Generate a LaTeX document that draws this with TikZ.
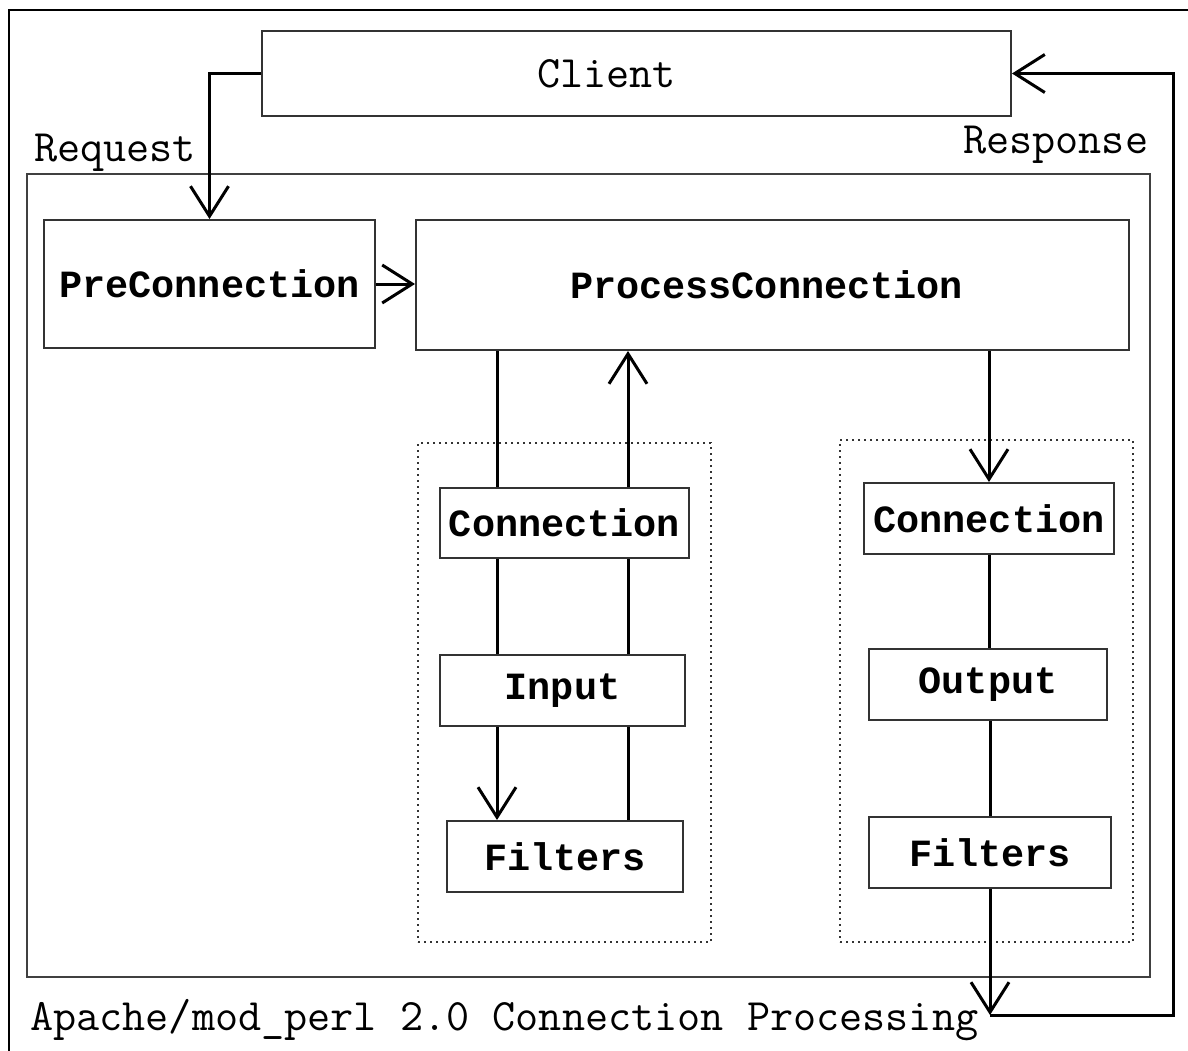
\documentclass[tikz,border=0pt]{standalone}
\usepackage{fontspec}
\newfontfamily\boldmono{Liberation Mono}
\usetikzlibrary{arrows.meta}
\tikzset{box/.style={draw=black!80, line width=2pt, inner sep=0pt,
   font=\boldmono\bfseries\fontsize{38.5}{40}\selectfont},
 group/.style={draw=black!80, line width=2pt, dash pattern=on 2pt off 4pt},
 frame/.style={draw=black!75, line width=2pt},
 plain/.style={font=\ttfamily\fontsize{44.9}{47}\selectfont, inner sep=0pt},
 link/.style={line width=3pt},
 arr/.style={line width=3pt, -{Straight Barb[length=30pt,width=38pt,line width=3pt]}},
 }
\begin{document}
\begin{tikzpicture}[x=1pt, y=-1pt]
        \useasboundingbox (0, 0) rectangle (1188, 1051);
        \draw[line width=2pt] (9, 1051) -- (9, 10) -- (1188, 10);
        \node[frame, minimum width=1123, minimum height=803] (main) at (588.5, 575.5) {};
        \node[group, minimum width=293, minimum height=499] (ingrp) at (564.5, 692.5) {};
        \node[group, minimum width=293, minimum height=502] (outgrp) at (986.5, 691) {};

        \node[box, minimum width=749, minimum height=85, font=\ttfamily\fontsize{44.9}{47}\selectfont] (client) at (636.5, 73.5) {\hspace*{-60pt}Client};
        \node[box, minimum width=331, minimum height=128] (pre) at (209.5, 284) {PreConnection};
        \node[box, minimum width=713, minimum height=130] (proc) at (772.5, 285) {\hspace*{-12pt}ProcessConnection};
        \node[box, minimum width=249, minimum height=70] (conL) at (564.5, 523) {Connection};
        \node[box, minimum width=245, minimum height=71] (inL) at (562.5, 690.5) {Input};
        \node[box, minimum width=236, minimum height=71] (filL) at (565, 856.5) {Filters};
        \node[box, minimum width=250, minimum height=71] (conR) at (989, 518.5) {Connection};
        \node[box, minimum width=238, minimum height=71] (outR) at (988, 684.5) {Output};
        \node[box, minimum width=242, minimum height=71] (filR) at (990, 852.5) {Filters};

        \node[plain, anchor=base west] (req) at (34, 162) {Request};
        \node[plain, anchor=base west] (resp) at (963, 154) {Response};
        \node[plain, anchor=base west] (title) at (30, 1030) {Apache/mod\_perl 2.0 Connection Processing};

        \coordinate (down) at (497, 0);
        \coordinate (up) at (628, 0);
        \coordinate (back) at (990, 1015);
        \coordinate (loop) at (1173, 0);

        \draw[arr] (client.west) -| (pre.north);
        \draw[arr] (pre.east) -- (pre.east -| proc.west);

        \draw[link] (proc.south -| down) -- (conL.north -| down);
        \draw[link] (conL.south -| down) -- (inL.north -| down);
        \draw[arr] (inL.south -| down) -- (filL.north -| down);
        \draw[link] (filL.north -| up) -- (inL.south -| up);
        \draw[link] (inL.north -| up) -- (conL.south -| up);
        \draw[arr] (conL.north -| up) -- (proc.south -| up);

        \draw[arr] (proc.south -| conR.north) -- (conR.north);
        \draw[link] (conR.south) -- (outR.north -| conR.south);
        \draw[link] (outR.south -| filR.north) -- (filR.north);
        \draw[arr] (filR.south) -- (back);
        \draw[arr] (back) -- (back -| loop) -- (loop |- client.east) -- (client.east);
    \end{tikzpicture}
\end{document}
